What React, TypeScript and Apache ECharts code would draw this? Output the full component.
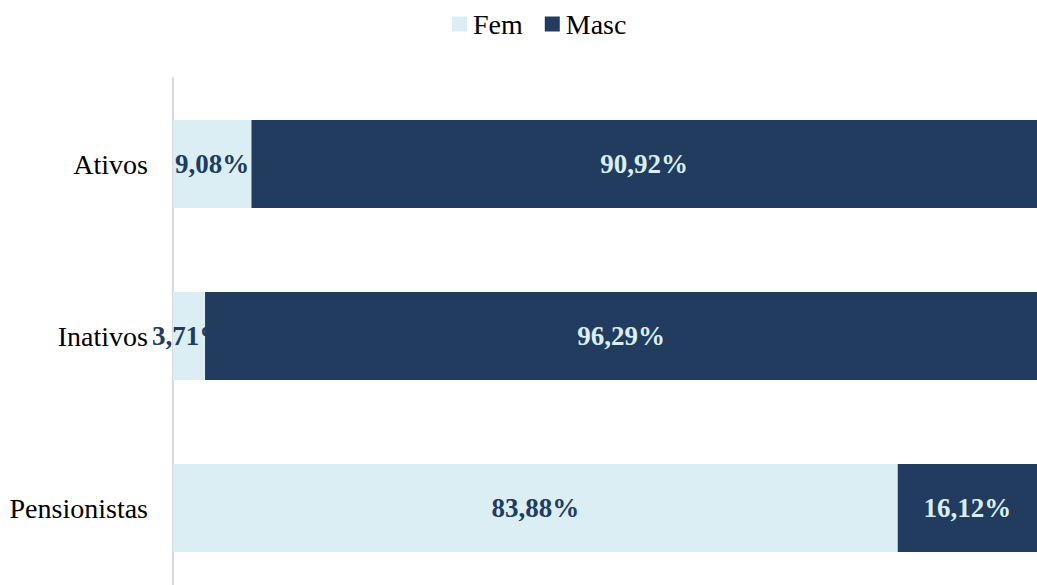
import React, { useEffect, useRef } from "react";
import * as echarts from "echarts";

const categories = ["Ativos", "Inativos", "Pensionistas"];
const femValues = [9.08, 3.71, 83.88];
const mascValues = [90.92, 96.29, 16.12];
const seriesNames = ["Fem", "Masc"];

const FEM_COLOR = "#DAEEF3";
const MASC_COLOR = "#213C5F";
const FONT = "'Liberation Serif', 'Times New Roman', serif";

const fmt = (v: number) => v.toFixed(2).replace(".", ",") + "%";

export default function App() {
  const ref = useRef<HTMLDivElement>(null);
  useEffect(() => {
    document.body.style.overflow = "hidden";
    if (!ref.current) return;
    const chart = echarts.init(ref.current, undefined, { renderer: "svg" });
    chart.setOption({
      animation: false,
      backgroundColor: "#ffffff",
      legend: {
        top: 10,
        left: 452,
        padding: 0,
        itemWidth: 15,
        itemHeight: 15,
        itemGap: 22,
        icon: "rect",
        textStyle: { fontFamily: FONT, fontSize: 28, color: "#000", padding: [0, 0, 0, 1] },
        data: seriesNames,
      },
      grid: { left: 173, right: 0, top: 78, height: 516, containLabel: false },
      xAxis: { type: "value", min: 0, max: 100, show: false },
      yAxis: {
        type: "category",
        data: categories,
        inverse: true,
        axisLine: { show: true, lineStyle: { color: "#d9d9d9", width: 2 } },
        axisTick: { show: false },
        axisLabel: { fontFamily: FONT, fontSize: 28, color: "#000", margin: 25 },
      },
      series: [
        {
          name: seriesNames[0],
          type: "bar",
          stack: "total",
          barWidth: 88,
          z: 2,
          itemStyle: { color: FEM_COLOR },
          label: {
            show: true,
            position: "inside",
            fontFamily: FONT,
            fontSize: 27,
            fontWeight: "bold",
            color: MASC_COLOR,
            formatter: (p: any) => fmt(p.value),
          },
          data: femValues,
        },
        {
          name: seriesNames[1],
          type: "bar",
          stack: "total",
          barWidth: 88,
          z: 3,
          itemStyle: { color: MASC_COLOR },
          label: {
            show: true,
            position: "inside",
            fontFamily: FONT,
            fontSize: 27,
            fontWeight: "bold",
            color: FEM_COLOR,
            formatter: (p: any) => fmt(p.value),
          },
          data: mascValues,
        },
      ],
    });
    return () => chart.dispose();
  }, []);
  return (
    <div
      ref={ref}
      style={{ position: "fixed", left: 0, top: 0, width: 1037, height: 600 }}
    />
  );
}
